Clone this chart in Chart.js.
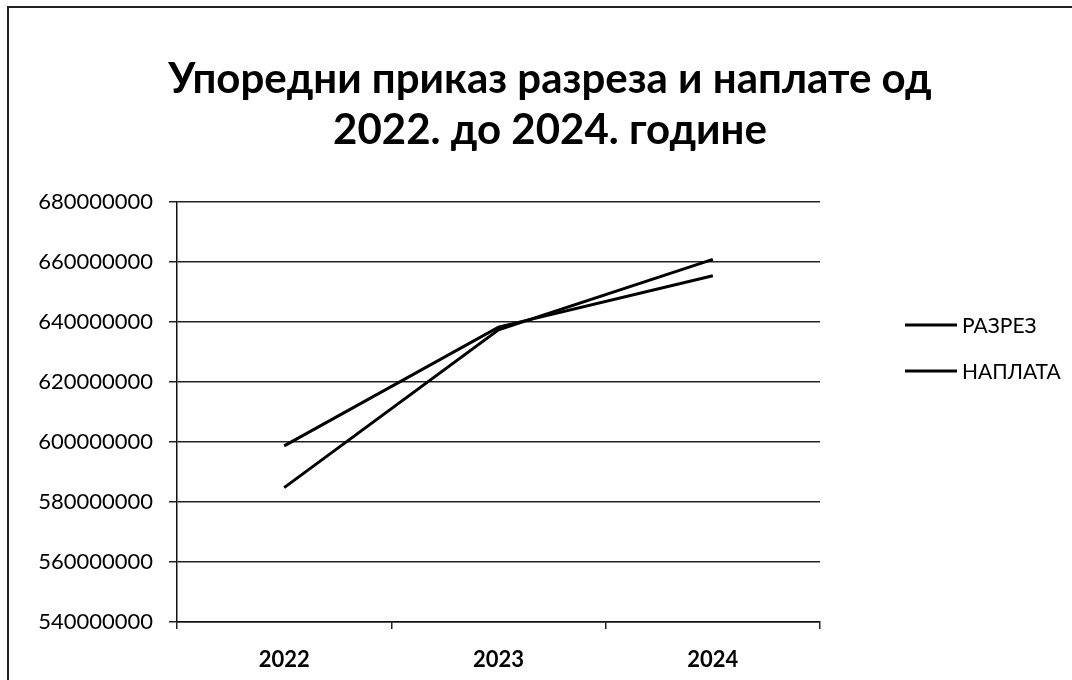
<!DOCTYPE html>
<html lang="sr">
    <head>
        <meta charset="UTF-8" />
        <title>Упоредни приказ разреза и наплате</title>
        <script src="https://cdn.jsdelivr.net/npm/chart.js"></script>
        <style>
            html,
            body {
                margin: 0;
                padding: 0;
                background: #fff;
                overflow: hidden;
            }
            .frame {
                position: absolute;
                left: 7px;
                top: 6px;
                width: 1100px;
                height: 700px;
                border-left: 2px solid #222;
                border-top: 2px solid #222;
            }
            h1 {
                position: absolute;
                left: 0;
                top: 52px;
                width: 1100px;
                margin: 0;
                text-align: center;
                font: bold 42px Lato, sans-serif;
                line-height: 51px;
                color: #000;
            }
            .chart-container {
                position: absolute;
                left: 0;
                top: 0;
                width: 1072px;
                height: 680px;
            }
        </style>
    </head>
    <body>
        <div class="frame"></div>
        <div class="chart-container">
            <canvas id="compareChart" width="1072" height="680"></canvas>
        </div>
        <h1>Упоредни приказ разреза и наплате од<br />2022. до 2024. године</h1>
        <script>
            // values
            const years = ["2022", "2023", "2024"];
            const razrez = [598700000, 638300000, 655400000];
            const naplata = [584800000, 637400000, 660900000];
            const yMin = 540000000;
            const yMax = 680000000;
            const yStep = 20000000;

            // legend drawn to the right of the plot, like the Excel one
            const sideLegend = {
                id: "sideLegend",
                afterDraw(chart) {
                    const ctx = chart.ctx;
                    const x0 = chart.chartArea.right + 85;
                    ctx.save();
                    ctx.font = "21px Lato";
                    ctx.textBaseline = "middle";
                    chart.data.datasets.forEach((ds, i) => {
                        const y = 325 + i * 46;
                        ctx.strokeStyle = ds.borderColor;
                        ctx.lineWidth = ds.borderWidth;
                        ctx.beginPath();
                        ctx.moveTo(x0, y);
                        ctx.lineTo(x0 + 52, y);
                        ctx.stroke();
                        ctx.fillStyle = "#000";
                        ctx.fillText(ds.label, x0 + 57, y + 1);
                    });
                    ctx.restore();
                },
            };

            new Chart(document.getElementById("compareChart"), {
                type: "line",
                data: {
                    labels: years,
                    datasets: [
                        {
                            label: "РАЗРЕЗ",
                            data: razrez,
                            borderColor: "#000",
                            borderWidth: 3,
                            pointRadius: 0,
                            tension: 0,
                        },
                        {
                            label: "НАПЛАТА",
                            data: naplata,
                            borderColor: "#000",
                            borderWidth: 3,
                            pointRadius: 0,
                            tension: 0,
                        },
                    ],
                },
                options: {
                    responsive: false,
                    animation: false,
                    layout: {
                        padding: { top: 202, right: 252, bottom: 0, left: 0 },
                    },
                    plugins: {
                        legend: { display: false },
                        title: { display: false },
                        tooltip: { enabled: false },
                    },
                    scales: {
                        x: {
                            offset: true,
                            grid: {
                                offset: true,
                                drawOnChartArea: false,
                                tickLength: 7,
                                color: "#222",
                                lineWidth: 1.5,
                            },
                            border: { color: "#111", width: 1.5 },
                            ticks: {
                                color: "#000",
                                padding: 18,
                                font: { family: "Lato", size: 22, weight: "bold" },
                            },
                            afterFit: (scale) => {
                                scale.height = 58;
                            },
                        },
                        y: {
                            min: yMin,
                            max: yMax,
                            grid: {
                                color: "#222",
                                lineWidth: 1.5,
                                tickLength: 8,
                            },
                            border: { color: "#111", width: 1.5 },
                            ticks: {
                                stepSize: yStep,
                                color: "#000",
                                padding: 16,
                                font: { family: "Lato", size: 22 },
                                callback: (v) => String(v),
                            },
                            afterFit: (scale) => {
                                scale.width = 177;
                            },
                        },
                    },
                },
                plugins: [sideLegend],
            });
        </script>
    </body>
</html>
